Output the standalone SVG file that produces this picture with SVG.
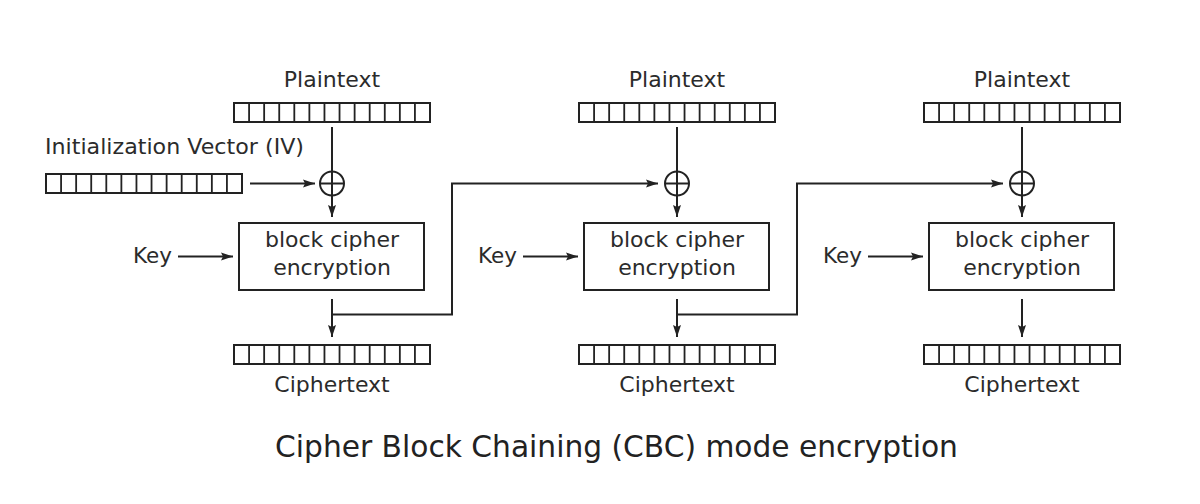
<svg xmlns="http://www.w3.org/2000/svg" xmlns:xlink="http://www.w3.org/1999/xlink" width="1200" height="504" viewBox="0 0 1200 504">
  <style>
    .lbl { font-family: "DejaVu Sans", "Liberation Sans", sans-serif; font-size: 22px; fill: #2b2b2b; }
    .key { font-family: "DejaVu Sans", "Liberation Sans", sans-serif; font-size: 21.5px; fill: #2b2b2b; }
    .box-t { font-family: "DejaVu Sans", "Liberation Sans", sans-serif; font-size: 22px; fill: #2b2b2b; text-anchor: middle; }
    .title { font-family: "DejaVu Sans", "Liberation Sans", sans-serif; font-size: 29.7px; fill: #222; text-anchor: middle; }
    .mid { text-anchor: middle; }
    .box { fill: #fff; stroke: #222; stroke-width: 2; }
    .line { fill: none; stroke: #222; stroke-width: 2; }
    .arrow { fill: none; stroke: #222; stroke-width: 2; marker-end: url(#ah); }
    .xor { fill: none; stroke: #222; stroke-width: 2; }
  </style>
  <defs>
    <marker id="ah" markerUnits="userSpaceOnUse" markerWidth="13" markerHeight="9" refX="12" refY="4.5" orient="auto">
      <path d="M0,0.5 L12,4.5 L0,8.5 L2,4.5 z" fill="#222"/>
    </marker>
    <g id="bar">
      <rect x="0" y="0" width="196" height="19" fill="#fff" stroke="#222" stroke-width="2"/>
      <path d="M15.08 0v19M30.15 0v19M45.23 0v19M60.31 0v19M75.38 0v19M90.46 0v19M105.54 0v19M120.62 0v19M135.69 0v19M150.77 0v19M165.85 0v19M180.92 0v19" fill="none" stroke="#222" stroke-width="1.8"/>
    </g>
  </defs>
  <rect width="1200" height="504" fill="#fff"/>

  <g id="connectors">
    <path class="arrow" d="M250 183.5H315"/>
    <path class="arrow" d="M332 127V217"/>
    <path class="arrow" d="M677 127V217"/>
    <path class="arrow" d="M1022 127V217"/>
    <path class="arrow" d="M178 256.5H233"/>
    <path class="arrow" d="M523 256.5H578"/>
    <path class="arrow" d="M868 256.5H923"/>
    <path class="arrow" d="M332 299V337"/>
    <path class="arrow" d="M677 299V337"/>
    <path class="arrow" d="M1022 299V337"/>
    <path class="arrow" d="M332 314.5H452V183.5H658"/>
    <path class="arrow" d="M677 314.5H797V183.5H1003"/>
  </g>

  <g id="iv">
    <text class="lbl" x="45" y="154" textLength="259" lengthAdjust="spacingAndGlyphs">Initialization Vector (IV)</text>
    <use xlink:href="#bar" x="46" y="174"/>
  </g>

  <g id="plaintext1">
    <text class="lbl mid" x="332" y="87">Plaintext</text>
    <use xlink:href="#bar" x="234" y="103"/>
  </g>
  <g id="plaintext2">
    <text class="lbl mid" x="677" y="87">Plaintext</text>
    <use xlink:href="#bar" x="579" y="103"/>
  </g>
  <g id="plaintext3">
    <text class="lbl mid" x="1022" y="87">Plaintext</text>
    <use xlink:href="#bar" x="924" y="103"/>
  </g>

  <g id="xor1"><circle class="xor" cx="332" cy="183.5" r="12"/><path class="xor" d="M320 183.5H344M332 171.5V195.5"/></g>
  <g id="xor2"><circle class="xor" cx="677" cy="183.5" r="12"/><path class="xor" d="M665 183.5H689M677 171.5V195.5"/></g>
  <g id="xor3"><circle class="xor" cx="1022" cy="183.5" r="12"/><path class="xor" d="M1010 183.5H1034M1022 171.5V195.5"/></g>

  <g id="key1"><text class="key" x="133" y="263">Key</text></g>
  <g id="key2"><text class="key" x="478" y="263">Key</text></g>
  <g id="key3"><text class="key" x="823" y="263">Key</text></g>

  <g id="cipher1">
    <rect class="box" x="239" y="223" width="185" height="67"/>
    <text class="box-t" x="332" y="247">block cipher</text>
    <text class="box-t" x="332" y="275">encryption</text>
  </g>
  <g id="cipher2">
    <rect class="box" x="584" y="223" width="185" height="67"/>
    <text class="box-t" x="677" y="247">block cipher</text>
    <text class="box-t" x="677" y="275">encryption</text>
  </g>
  <g id="cipher3">
    <rect class="box" x="929" y="223" width="185" height="67"/>
    <text class="box-t" x="1022" y="247">block cipher</text>
    <text class="box-t" x="1022" y="275">encryption</text>
  </g>

  <g id="ciphertext1">
    <use xlink:href="#bar" x="234" y="345"/>
    <text class="lbl mid" x="332" y="392">Ciphertext</text>
  </g>
  <g id="ciphertext2">
    <use xlink:href="#bar" x="579" y="345"/>
    <text class="lbl mid" x="677" y="392">Ciphertext</text>
  </g>
  <g id="ciphertext3">
    <use xlink:href="#bar" x="924" y="345"/>
    <text class="lbl mid" x="1022" y="392">Ciphertext</text>
  </g>

  <g id="title">
    <text class="title" x="616.5" y="457">Cipher Block Chaining (CBC) mode encryption</text>
  </g>
</svg>
